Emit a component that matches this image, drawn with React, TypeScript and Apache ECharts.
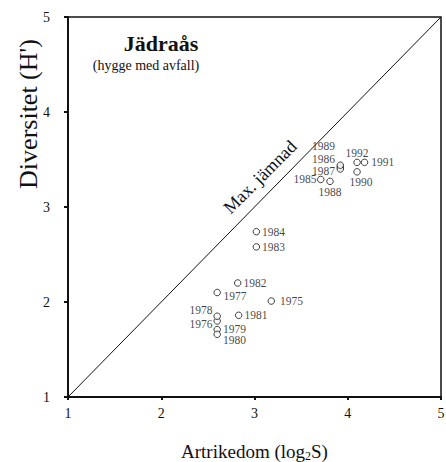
import React, { useEffect, useRef } from "react";
import * as echarts from "echarts";

// Survey years
const years = [1975, 1976, 1977, 1978, 1979, 1980, 1981, 1982, 1983, 1984, 1985, 1986, 1987, 1988, 1989, 1990, 1991, 1992];
// Artrikedom (log2 S)
const richness = [3.18, 2.6, 2.6, 2.6, 2.6, 2.6, 2.83, 2.82, 3.02, 3.02, 3.71, 3.92, 3.92, 3.81, 3.92, 4.1, 4.18, 4.1];
// Diversitet (H')
const diversity = [2.01, 1.8, 2.1, 1.85, 1.71, 1.66, 1.86, 2.2, 2.58, 2.74, 3.29, 3.42, 3.4, 3.27, 3.44, 3.37, 3.47, 3.47];
// Max. jämnad line (H' = log2 S)
const maxEvenX = [1, 5];
const maxEvenY = [1, 5];
// Axis ticks
const xTicks = [1, 2, 3, 4, 5];
const yTicks = [1, 2, 3, 4, 5];

// label placement (layout only): position, distance, dx, dy
const labelLayout: Record<number, [string, number, number, number]> = {
  1975: ["right", 5, 0, 0],
  1976: ["left", 1, 0, 3],
  1977: ["right", 2.5, 0, 3],
  1978: ["left", 1, 0, -6],
  1979: ["right", 2, 0, -0.5],
  1980: ["right", 2, 0, 6],
  1981: ["right", 2, 0, 0],
  1982: ["right", 2, 0, 0],
  1983: ["right", 2, 0, 0],
  1984: ["right", 2, 0, 0],
  1985: ["left", 0.5, 0, 0],
  1986: ["left", 1.5, 0, -8.5],
  1987: ["left", 1.5, 0, 1.5],
  1988: ["bottom", 2, 0, 0],
  1989: ["left", 1.5, 0, -19],
  1990: ["bottom", 1, 4, 0],
  1991: ["right", 3, 0, 0],
  1992: ["top", 1, 0, 0],
};

export default function App() {
  const ref = useRef<HTMLDivElement>(null);
  useEffect(() => {
    const chart = echarts.init(ref.current!, null, { renderer: "svg" });
    const font = "Liberation Serif";
    const ink = "#111";
    const txt = (text: string, size: number, weight: string = "normal") => ({
      text,
      fontFamily: font,
      fontSize: size,
      fontWeight: weight,
      fill: ink,
      textAlign: "center",
      textVerticalAlign: "middle",
      align: "center",
      verticalAlign: "middle",
    });
    chart.setOption({
      animation: false,
      grid: {
        left: 68,
        right: 5,
        top: 17,
        bottom: 65,
        show: true,
        borderColor: ink,
        borderWidth: 1.5,
        containLabel: false,
        outerBoundsMode: "none",
      },
      xAxis: {
        type: "value",
        min: xTicks[0],
        max: xTicks[xTicks.length - 1],
        interval: 1,
        splitLine: { show: false },
        axisLine: { onZero: false, lineStyle: { color: ink, width: 2 } },
        axisTick: { show: true, length: 3, lineStyle: { color: ink, width: 2 } },
        axisLabel: { color: ink, fontFamily: font, fontSize: 14, margin: 9 },
        name: "{a|Artrikedom (log}{b|2}{a|S)}",
        nameLocation: "middle",
        nameGap: 43,
        nameTextStyle: {
          rich: {
            a: { fontFamily: font, fontSize: 19, color: ink, lineHeight: 22 },
            b: { fontFamily: font, fontSize: 12, color: ink, lineHeight: 12, verticalAlign: "bottom" },
          },
        },
      },
      yAxis: {
        type: "value",
        min: yTicks[0],
        max: yTicks[yTicks.length - 1],
        interval: 1,
        splitLine: { show: false },
        axisLine: { onZero: false, lineStyle: { color: ink, width: 2 } },
        axisTick: { show: true, length: 4, lineStyle: { color: ink, width: 2 } },
        axisLabel: { color: ink, fontFamily: font, fontSize: 14, margin: 18 },
      },
      graphic: [
        { type: "text", x: 28, y: 114, rotation: Math.PI / 2, style: txt("Diversitet (H')", 26) },
        { type: "text", x: 161, y: 43, style: txt("Jädraås", 22, "bold") },
        { type: "text", x: 146, y: 65, style: txt("(hygge med avfall)", 14) },
        { type: "text", x: 260, y: 177, rotation: Math.PI / 4, style: txt("Max. jämnad", 18) },
      ],
      series: [
        {
          type: "line",
          data: maxEvenX.map((x, i) => [x, maxEvenY[i]]),
          symbol: "none",
          silent: true,
          lineStyle: { color: ink, width: 1 },
        },
        {
          type: "scatter",
          symbol: "circle",
          symbolSize: 6.5,
          itemStyle: { color: "#fff", borderColor: ink, borderWidth: 1 },
          label: {
            show: true,
            formatter: (p: any) => String(p.value[2]),
            fontFamily: font,
            fontSize: 11.5,
            lineHeight: 10,
            color: ink,
          },
          data: years.map((y, i) => {
            const [pos, dist, dx, dy] = labelLayout[y];
            return {
              value: [richness[i], diversity[i], y],
              label: { position: pos, distance: dist, offset: [dx, dy] },
            };
          }),
        },
      ],
    });
    return () => chart.dispose();
  }, []);
  return <div ref={ref} style={{ position: "absolute", left: 0, top: 0, width: 446, height: 462, background: "#fff" }} />;
}
